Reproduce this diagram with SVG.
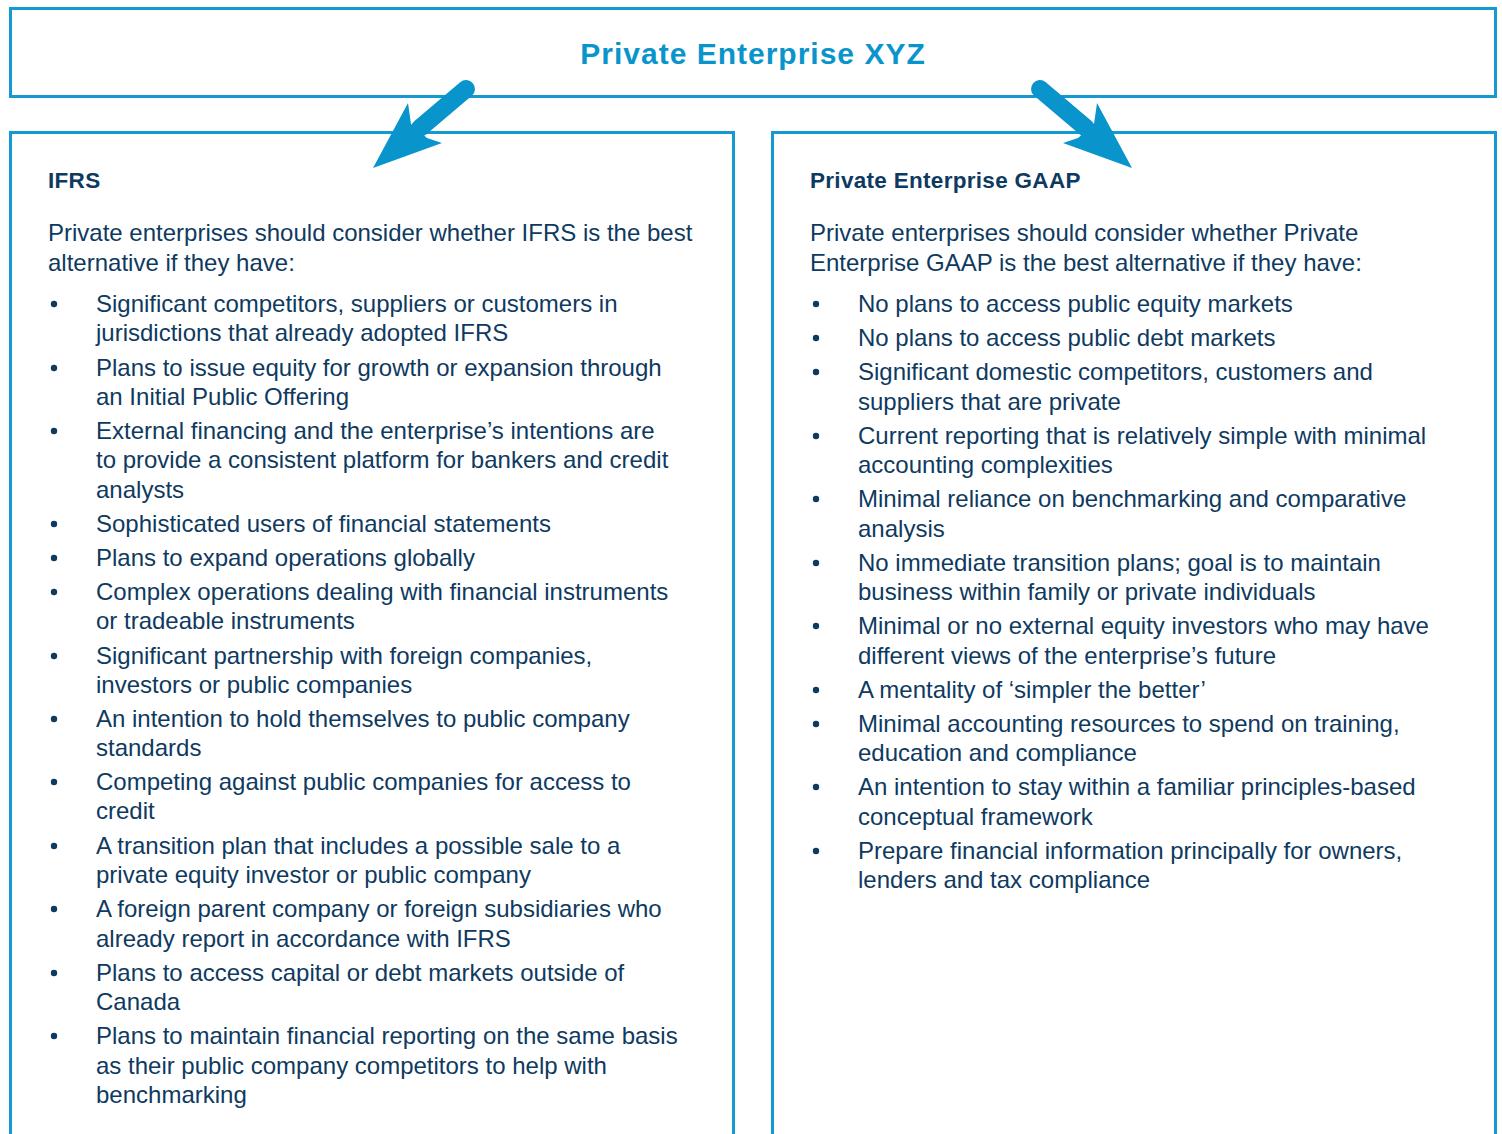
<svg xmlns="http://www.w3.org/2000/svg" width="1502" height="1134" viewBox="0 0 1502 1134">
  <style>
    .box { fill: #ffffff; stroke: #1499d1; stroke-width: 3; }
    .title { font-family: "Liberation Sans", Arial, sans-serif; font-weight: bold; font-size: 30px; letter-spacing: 1px; fill: #0a94cc; }
    .head { font-family: "Liberation Sans", Arial, sans-serif; font-weight: bold; font-size: 22.5px; letter-spacing: 0.3px; fill: #0f3a5f; }
    .body { font-family: "Liberation Sans", Arial, sans-serif; font-size: 24px; fill: #0f3a5f; }
    .dot { fill: #0f3a5f; }
    .arrow { fill: #0a94cc; }
    .shaft { stroke: #0a94cc; stroke-width: 18; stroke-linecap: round; fill: none; }
  </style>
  <rect width="1502" height="1134" fill="#ffffff"/>

  <!-- top node -->
  <g id="node-top">
    <rect class="box" x="10.5" y="8.5" width="1485" height="88"/>
    <text class="title" x="753" y="64" text-anchor="middle">Private Enterprise XYZ</text>
  </g>

  <!-- left column: IFRS -->
  <g id="node-ifrs">
    <rect class="box" x="10.5" y="132.5" width="723" height="1010"/>
    <text class="head" x="48" y="188">IFRS</text>
    <text class="body" x="48" y="241">Private enterprises should consider whether IFRS is the best</text>
    <text class="body" x="48" y="271">alternative if they have:</text>
    <g class="dot">
      <circle cx="54" cy="304" r="3.2"/>
      <circle cx="54" cy="368" r="3.2"/>
      <circle cx="54" cy="431" r="3.2"/>
      <circle cx="54" cy="524" r="3.2"/>
      <circle cx="54" cy="558" r="3.2"/>
      <circle cx="54" cy="592" r="3.2"/>
      <circle cx="54" cy="656" r="3.2"/>
      <circle cx="54" cy="719" r="3.2"/>
      <circle cx="54" cy="782" r="3.2"/>
      <circle cx="54" cy="846" r="3.2"/>
      <circle cx="54" cy="909" r="3.2"/>
      <circle cx="54" cy="973" r="3.2"/>
      <circle cx="54" cy="1036" r="3.2"/>
    </g>
    <text class="body" x="96" y="312">Significant competitors, suppliers or customers in</text>
    <text class="body" x="96" y="341">jurisdictions that already adopted IFRS</text>
    <text class="body" x="96" y="376">Plans to issue equity for growth or expansion through</text>
    <text class="body" x="96" y="405">an Initial Public Offering</text>
    <text class="body" x="96" y="439">External financing and the enterprise’s intentions are</text>
    <text class="body" x="96" y="468">to provide a consistent platform for bankers and credit</text>
    <text class="body" x="96" y="498">analysts</text>
    <text class="body" x="96" y="532">Sophisticated users of financial statements</text>
    <text class="body" x="96" y="566">Plans to expand operations globally</text>
    <text class="body" x="96" y="600">Complex operations dealing with financial instruments</text>
    <text class="body" x="96" y="629">or tradeable instruments</text>
    <text class="body" x="96" y="664">Significant partnership with foreign companies,</text>
    <text class="body" x="96" y="693">investors or public companies</text>
    <text class="body" x="96" y="727">An intention to hold themselves to public company</text>
    <text class="body" x="96" y="756">standards</text>
    <text class="body" x="96" y="790">Competing against public companies for access to</text>
    <text class="body" x="96" y="819">credit</text>
    <text class="body" x="96" y="854">A transition plan that includes a possible sale to a</text>
    <text class="body" x="96" y="883">private equity investor or public company</text>
    <text class="body" x="96" y="917">A foreign parent company or foreign subsidiaries who</text>
    <text class="body" x="96" y="947">already report in accordance with IFRS</text>
    <text class="body" x="96" y="981">Plans to access capital or debt markets outside of</text>
    <text class="body" x="96" y="1010">Canada</text>
    <text class="body" x="96" y="1044">Plans to maintain financial reporting on the same basis</text>
    <text class="body" x="96" y="1074">as their public company competitors to help with</text>
    <text class="body" x="96" y="1103">benchmarking</text>
  </g>

  <!-- right column: Private Enterprise GAAP -->
  <g id="node-gaap">
    <rect class="box" x="772.5" y="132.5" width="723" height="1010"/>
    <text class="head" x="810" y="188">Private Enterprise GAAP</text>
    <text class="body" x="810" y="241">Private enterprises should consider whether Private</text>
    <text class="body" x="810" y="271">Enterprise GAAP is the best alternative if they have:</text>
    <g class="dot">
      <circle cx="816" cy="304" r="3.2"/>
      <circle cx="816" cy="338" r="3.2"/>
      <circle cx="816" cy="372" r="3.2"/>
      <circle cx="816" cy="436" r="3.2"/>
      <circle cx="816" cy="499" r="3.2"/>
      <circle cx="816" cy="563" r="3.2"/>
      <circle cx="816" cy="626" r="3.2"/>
      <circle cx="816" cy="690" r="3.2"/>
      <circle cx="816" cy="724" r="3.2"/>
      <circle cx="816" cy="787" r="3.2"/>
      <circle cx="816" cy="851" r="3.2"/>
    </g>
    <text class="body" x="858" y="312">No plans to access public equity markets</text>
    <text class="body" x="858" y="346">No plans to access public debt markets</text>
    <text class="body" x="858" y="380">Significant domestic competitors, customers and</text>
    <text class="body" x="858" y="410">suppliers that are private</text>
    <text class="body" x="858" y="444">Current reporting that is relatively simple with minimal</text>
    <text class="body" x="858" y="473">accounting complexities</text>
    <text class="body" x="858" y="507">Minimal reliance on benchmarking and comparative</text>
    <text class="body" x="858" y="537">analysis</text>
    <text class="body" x="858" y="571">No immediate transition plans; goal is to maintain</text>
    <text class="body" x="858" y="600">business within family or private individuals</text>
    <text class="body" x="858" y="634">Minimal or no external equity investors who may have</text>
    <text class="body" x="858" y="664">different views of the enterprise’s future</text>
    <text class="body" x="858" y="698">A mentality of ‘simpler the better’</text>
    <text class="body" x="858" y="732">Minimal accounting resources to spend on training,</text>
    <text class="body" x="858" y="761">education and compliance</text>
    <text class="body" x="858" y="795">An intention to stay within a familiar principles-based</text>
    <text class="body" x="858" y="825">conceptual framework</text>
    <text class="body" x="858" y="859">Prepare financial information principally for owners,</text>
    <text class="body" x="858" y="888">lenders and tax compliance</text>
  </g>

  <!-- connectors: block arrows from the top node to each column -->
  <g id="connectors">
    <g id="arrow-left">
      <line class="shaft" x1="466" y1="89" x2="420" y2="128"/>
      <polygon class="arrow" points="373,168 408,103 411,124 427,138 442,143"/>
    </g>
    <g id="arrow-right">
      <line class="shaft" x1="1040" y1="89" x2="1086" y2="128"/>
      <polygon class="arrow" points="1132,168 1097,103 1094,124 1078,138 1063,143"/>
    </g>
  </g>
</svg>
